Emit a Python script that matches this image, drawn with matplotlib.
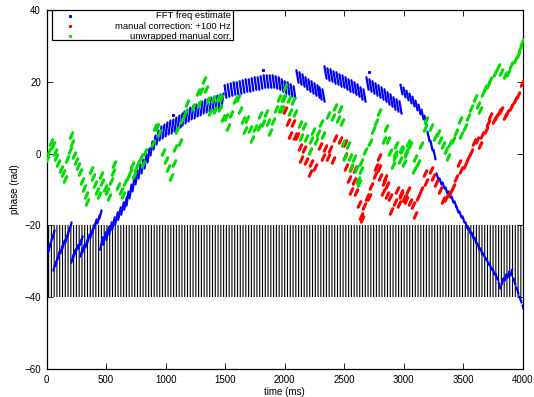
import numpy as np
import matplotlib
matplotlib.use("Agg")
import matplotlib.pyplot as plt
from matplotlib.markers import MarkerStyle
from matplotlib.patches import Rectangle

plt.rcParams['font.family'] = ['Liberation Sans', 'DejaVu Sans']
plt.rcParams['hatch.linewidth'] = 0.8

# ---------------------------------------------------------------- data
# FFT frequency estimate: phase per frame, grouped in continuous runs
# (times, phases, stroke tilt in degrees, stroke length in points)
blue_runs = [
    ([2, 18, 35, 52], [-27.8, -26.0, -24.2, -22.4], 15, 6),
    ([61, 80, 100, 120, 140, 160, 180, 200],
     [-31.3, -29.8, -28.2, -26.6, -25.1, -23.5, -21.9, -20.3], 15, 6),
    ([210, 230, 250, 270, 290], [-29.0, -27.8, -26.5, -25.2, -24.0], 15, 6),
    ([290, 310, 330, 350, 370, 390, 410, 430, 450],
     [-27.5, -26.2, -24.8, -23.5, -22.1, -20.8, -19.4, -18.1, -16.7], 15, 6),
    ([455, 480, 505, 530, 555, 580, 605, 630, 655],
     [-24.9, -23.5, -22.1, -20.7, -19.3, -17.9, -16.5, -15.1, -13.7], 12, 9),
    ([675, 700, 725, 750, 775, 800, 825, 850, 875, 900, 925, 950, 975, 1000,
      1025, 1050, 1075, 1100, 1125, 1150, 1175, 1200, 1225, 1250, 1275, 1300,
      1325, 1350, 1375, 1400, 1425, 1450, 1475],
     [-12.5, -10.5, -8.5, -6.6, -4.8, -3.4, -2.2, -0.5, 1.5, 3.3, 4.7, 5.6,
      6.3, 6.9, 7.4, 7.8, 8.3, 8.8, 9.3, 9.8, 10.4, 11.0, 11.5, 12.0, 12.4,
      12.8, 13.2, 13.5, 13.8, 14.1, 14.4, 14.7, 15.0], 8, 10),
    ([1500, 1525, 1550, 1575, 1600, 1625, 1650, 1675, 1700, 1725, 1750, 1775,
      1800, 1825, 1850, 1875, 1900, 1925, 1950, 1975, 2000, 2025, 2050, 2075],
     [17.4, 17.7, 18.0, 18.2, 18.4, 18.6, 18.8, 19.0, 19.2, 19.4, 19.6, 19.8,
      20.0, 20.2, 20.3, 20.3, 20.2, 20.0, 19.6, 19.1, 18.6, 18.2, 17.7, 17.2],
     -8, 9),
    ([2100, 2125, 2150, 2175, 2200, 2225, 2250, 2275, 2300, 2325],
     [21.6, 21.0, 20.4, 19.8, 19.2, 18.6, 18.0, 17.4, 16.8, 16.2], -10, 9),
    ([2340, 2365, 2390, 2415, 2440, 2465, 2490, 2515, 2540, 2565, 2590, 2615,
      2640, 2665],
     [22.6, 22.2, 21.8, 21.4, 21.0, 20.6, 20.2, 19.7, 19.2, 18.7, 18.2, 17.6,
      17.0, 16.4], -10, 9),
    ([2690, 2715, 2740, 2765, 2790, 2815, 2840, 2865, 2890, 2915, 2940, 2965],
     [19.8, 19.2, 18.6, 18.0, 17.4, 16.8, 16.2, 15.5, 14.8, 14.2, 13.6, 13.0],
     -10, 9),
    ([2980, 3005, 3030, 3055, 3080, 3105, 3130, 3155, 3180, 3200, 3225, 3250],
     [18.0, 17.2, 16.4, 15.6, 14.6, 13.6, 12.4, 11.0, 9.4, 5.0, 2.5, 0.0],
     -12, 7),
    ([3275, 3300, 3325, 3350, 3375, 3400, 3425, 3450, 3475, 3500, 3525, 3550,
      3575, 3600, 3625, 3650, 3675, 3700, 3725, 3750, 3775, 3800],
     [-6.3, -7.5, -8.8, -10.0, -11.3, -12.6, -14.0, -15.4, -16.8, -18.3, -19.8,
      -21.3, -22.8, -24.2, -25.6, -27.0, -28.4, -29.8, -31.2, -32.6, -34.0,
      -36.5], -18, 4.5),
    ([3825, 3850, 3875, 3900], [-35.5, -34.5, -33.5, -33.0], 15, 4.5),
    ([3925, 3950, 3975, 4000], [-35.5, -38.0, -40.5, -43.0], -18, 4.5),
]
blue_dots_t = [1063, 1821, 2705]
blue_dots_ph = [10.8, 23.3, 22.8]

# manual correction (+100 Hz), wrapped phase
red_t = [2000, 2027, 2042, 2069, 2084, 2104, 2126, 2159, 2140, 2182, 2224, 2252,
         2210, 2293, 2335, 2377, 2321, 2363, 2405, 2419, 2461, 2503, 2503, 2517,
         2559, 2587, 2540, 2579, 2559, 2601, 2623, 2662, 2643, 2650, 2690, 2707,
         2721, 2755, 2763, 2787, 2787, 2797, 2839, 2829, 2862, 2823, 2862, 2880,
         2922, 2959, 2894, 2942, 2978, 2998, 3020, 2978, 3006, 3034, 3048, 3076,
         3090, 3118, 3146, 3174, 3188, 3230, 3244, 3272, 3300, 3328, 3356, 3384,
         3411, 3440, 3462, 3482, 3509, 3537, 3565, 3585, 3613, 3635, 3658, 3686,
         3705, 3725, 3753, 3775, 3797, 3817, 3845, 3864, 3901, 3929, 3957, 3990]
red_ph = [12.1, 8.9, 5.2, 8.6, 4.9, 4.9, 1.7, 1.2, -1.6, -2.0, -2.7, -3.6,
          -5.5, 2.1, 1.6, 1.2, -0.9, -1.0, -1.8, 4.3, 3.8, 3.0, -0.7, -3.8,
          -4.1, -4.4, -7.2, -7.5, -10.3, -10.6, -14.0, -14.6, -17.4, -18.3, -12.0, -12.2,
          -9.0, -6.0, -3.6, -4.1, -1.0, -6.4, -6.9, -7.8, -8.7, -10.6, -11.5, -12.2,
          -13.4, -14.0, -15.9, -10.1, -10.9, -12.5, -12.9, -11.5, -12.5, -10.1, -13.4, -14.3,
          -17.1, -12.0, -10.1, -5.5, -7.8, -4.6, -6.4, -8.3, -10.1, -12.9, -12.5, -11.1,
          -9.2, -6.9, -2.7, -4.6, -3.2, -1.3, 0.5, 3.3, 3.8, 2.4, 5.2, 6.6,
          8.4, 10.5, 9.4, 10.1, 11.7, 12.1, 10.5, 11.2, 13.1, 14.9, 16.3, 19.6]

# unwrapped manual correction
green_t = [5, 20, 38, 55, 68, 82, 100, 118, 135, 152,
           175, 195, 210, 205,
           230, 248, 265, 282, 300, 315, 332, 342,
           370, 388, 405, 422, 440,
           455, 470, 490, 505, 522,
           540, 555, 570, 600, 625, 645,
           660, 680, 700, 720, 735, 750, 770, 790, 810, 830,
           890, 908, 927, 946, 980, 1002, 1016, 1044, 1072, 1078, 1092, 1120,
           1134, 1162, 1181, 1231, 1273, 1281, 1301, 1319, 1338, 1357, 1371,
           1399, 1413, 1441, 1455, 1469, 1483, 1511, 1525, 1545, 1581, 1609,
           1623, 1651, 1665, 1684, 1707, 1725, 1749, 1786, 1790, 1818, 1840,
           1860, 1874, 1902, 1930, 1948, 1964, 1985, 2000,
           1990, 2032, 2068, 1976, 2040, 2083, 2126, 2159, 2140, 2182, 2224,
           2266, 2210, 2237, 2280, 2321, 2302, 2363, 2405, 2447, 2484, 2419,
           2461, 2489, 2531, 2503, 2545, 2579, 2559, 2601, 2637, 2615, 2623,
           2643, 2671, 2713, 2740, 2768, 2787, 2847, 2829, 2870, 2880, 2922,
           2922, 2964, 2998, 2908, 2936, 2978, 3015, 3034,
           2987, 3021, 3048, 3090, 3082, 3118, 3146, 3174, 3188, 3230, 3258,
           3286, 3300, 3328, 3356, 3370, 3384, 3411, 3440, 3468, 3482, 3509,
           3537, 3565, 3593, 3621, 3635, 3663, 3677, 3705, 3727, 3761, 3789,
           3817, 3845, 3873, 3901, 3929, 3957, 3977, 3993]
green_ph = [-1.5, 0.8, 3.3, 2.5, 0.5, -1.0, -2.5, -4.2, -5.5, -7.0,
            -1.5, 1.0, 3.0, 5.2,
            -0.5, -2.0, -3.5, -5.0, -7.5, -9.5, -11.5, -13.5,
            -4.5, -6.5, -8.5, -10.3, -11.5,
            -6.0, -8.0, -9.5, -10.5, -12.0,
            -7.5, -5.0, -2.9, -9.0, -10.5, -11.5,
            -8.0, -6.5, -5.0, -3.2, -6.0, -4.0, -2.5, -1.0, -3.0, 0.5,
            2.9, 7.5, 7.5, 5.7, 0.5, -1.8, -4.1, -6.4, -2.7, 1.5, 6.6, 3.3,
            9.4, 11.2, 14.2, 13.1, 17.2, 13.7, 17.5, 20.5, 17.9, 14.9, 11.7,
            15.1, 12.1, 15.4, 12.6, 15.6, 9.8, 10.3, 7.5, 11.0, 14.9, 15.4,
            12.1, 9.4, 6.6, 9.6, 6.8, 4.1, 7.2, 7.5, 10.8, 8.4, 11.4,
            8.9, 6.1, 9.2, 12.3, 15.4, 12.3, 15.4, 18.6,
            15.4, 15.1, 14.7, 12.3, 11.7, 11.4, 8.2, 7.7, 4.7, 4.3, 3.9,
            3.4, 0.8, 6.4, 5.6, 5.2, 8.6, 10.8, 10.1, 9.6, 8.9, 13.1,
            12.3, 2.9, 2.4, -0.9, -1.0, -1.3, -3.8, -4.4, -4.6, -7.4, -8.1,
            -2.3, 0.8, 3.3, 6.6, 8.9, 11.7, 7.0, 3.8, 3.8, 0.5, -0.1,
            -0.9, -1.8, -2.5, -3.2, 2.4, 1.2, 0.5, 2.9,
            1.0, -0.1, 2.4, -1.3, -4.6, -2.5, 2.4, 7.0, 9.4, 7.5, 4.7,
            5.7, 3.8, 2.4, 1.0, -0.9, 2.9, 3.8, 6.1, 9.4, 5.2, 7.5,
            10.3, 12.6, 15.4, 13.5, 12.1, 16.8, 18.2, 19.1, 20.5, 22.4, 24.2,
            22.8, 21.9, 22.4, 24.7, 26.1, 27.5, 29.3, 31.2]

# frame grid band
band_lo, band_hi = -40, -20
t_start, t_end = 0, 4000

series_labels = ['FFT freq estimate', 'manual correction: +100 Hz',
                 'unwrapped manual corr.']
BLUE, RED, GREEN = '#0000ff', '#ff0000', '#00dd00'


def stroke(angle):
    """Short straight stroke tilted `angle` degrees from vertical."""
    a = np.deg2rad(angle)
    dx, dy = np.sin(a), np.cos(a)
    return MarkerStyle([(-dx, -dy), (dx, dy)], capstyle='round')


# ---------------------------------------------------------------- figure
fig = plt.figure(figsize=(5.34, 3.97), dpi=100)
ax = fig.add_axes([46.5 / 534, 1 - 369 / 397, 476.5 / 534, 359 / 397])

ax.add_patch(Rectangle((t_start, band_lo), t_end - t_start, band_hi - band_lo,
                       facecolor='none', edgecolor='black', linewidth=0,
                       hatch='||||||', zorder=1))

for ts, ps, ang, size in blue_runs:
    ax.plot(ts, ps, ls='none', marker=stroke(ang), markersize=size,
            markeredgewidth=1.6, color=BLUE, zorder=2)
ax.plot(blue_dots_t, blue_dots_ph, ls='none', marker='s', markersize=1.2,
        color=BLUE, zorder=2)
ax.plot(red_t, red_ph, ls='none', marker=stroke(25), markersize=4.0,
        markeredgewidth=2.2, color=RED, zorder=3)
ax.plot(green_t, green_ph, ls='none', marker=stroke(25), markersize=4.0,
        markeredgewidth=2.2, color=GREEN, zorder=4)

ax.set_xlim(t_start, t_end)
ax.set_ylim(-60, 40)
ax.set_xticks(np.arange(0, 4001, 500))
ax.set_yticks(np.arange(-60, 41, 20))
ax.tick_params(direction='in', length=4, width=0.6, top=True, right=True,
               labelsize=7, pad=4)
for s in ax.spines.values():
    s.set_linewidth(0.9)
ax.set_xlabel('time (ms)', fontsize=7, labelpad=2)
ax.set_ylabel('phase (rad)', fontsize=7, labelpad=3)

# key box in the upper left corner
ax.add_patch(Rectangle((0.0115, 0.9164), 0.38, 0.0836, transform=ax.transAxes,
                       facecolor='white', edgecolor='black', linewidth=0.9,
                       zorder=5))
for i, (lab, col) in enumerate(zip(series_labels, [BLUE, RED, GREEN])):
    y = 0.9833 - i * 0.0279
    ax.plot([0.049], [y], transform=ax.transAxes, ls='none', marker='s',
            markersize=1.2, color=col, zorder=6)
    ax.text(0.387, y, lab, transform=ax.transAxes, ha='right', va='center',
            fontsize=6.8, zorder=6)

fig.savefig('out.png', dpi=100)
